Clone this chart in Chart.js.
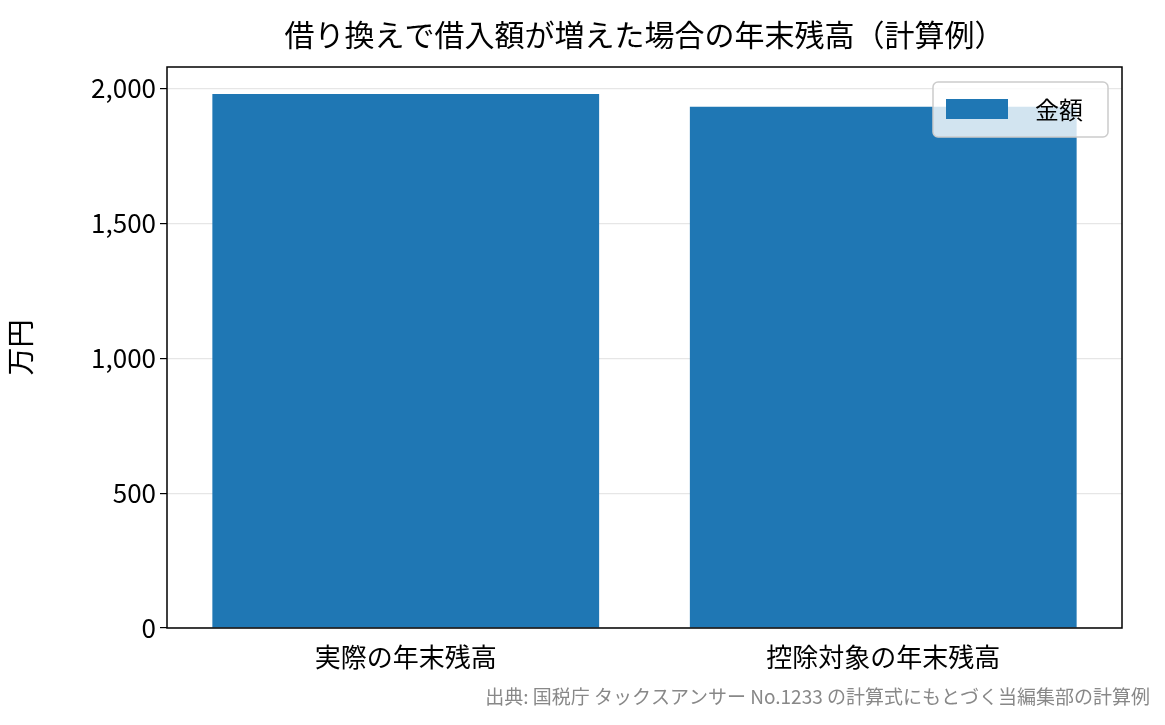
<!DOCTYPE html>
<html><head><meta charset="utf-8">
<script src="https://cdn.jsdelivr.net/npm/chart.js@4"></script>
<style>html,body{margin:0;padding:0;background:#fff}#w{width:1165px;height:725px}</style>
</head><body><div id="w"><canvas id="c"></canvas></div>
<script>
const categories = ["実際の年末残高", "控除対象の年末残高"];
const values = [1980, 1933];
const seriesName = "金額";
const yTicks = [0, 500, 1000, 1500, 2000];
const titleText = "借り換えで借入額が増えた場合の年末残高（計算例）";
const sourceText = "出典: 国税庁 タックスアンサー No.1233 の計算式にもとづく当編集部の計算例";
const F = '"Noto Sans CJK JP", "Noto Sans", sans-serif';
const deco = {
  id: 'deco',
  afterDraw(ch) {
    const c = ch.ctx, a = ch.chartArea;
    c.save();
    c.strokeStyle = '#000'; c.lineWidth = 1.5;
    c.strokeRect(a.left, a.top, a.right - a.left, a.bottom - a.top);
    c.fillStyle = '#000'; c.font = '30px ' + F; c.textAlign = 'center'; c.textBaseline = 'middle';
    c.fillText(titleText, (a.left + a.right) / 2, 35);
    c.fillStyle = '#888'; c.font = '19px ' + F; c.textAlign = 'right';
    c.fillText(sourceText, 1150, 697);
    // legend
    const lx = 933, ly = 82, lw = 175, lh = 55;
    c.fillStyle = 'rgba(255,255,255,0.8)';
    c.strokeStyle = '#ccc'; c.lineWidth = 1.5;
    c.beginPath(); c.roundRect(lx, ly, lw, lh, 5); c.fill(); c.stroke();
    c.fillStyle = '#1f77b4'; c.fillRect(946, 99, 62, 20);
    c.fillStyle = '#000'; c.font = '24px ' + F; c.textAlign = 'left';
    c.fillText(seriesName, 1035, 110);
    c.restore();
  }
};
new Chart(document.getElementById('c'), {
  type: 'bar',
  data: { labels: categories, datasets: [{ label: seriesName, data: values, backgroundColor: '#1f77b4', barPercentage: 0.81, categoryPercentage: 1 }] },
  options: {
    responsive: true, maintainAspectRatio: false, animation: false,
    layout: { padding: { top: 67, right: 43, left: 0, bottom: 0 } },
    plugins: { legend: { display: false }, title: { display: false }, tooltip: { enabled: false } },
    scales: {
      x: { grid: { display: false }, border: { display: false },
        ticks: { color: '#000', font: { family: F, size: 26 }, padding: 6 },
        afterFit(s) { s.height = 725 - 628; } },
      y: { min: 0, max: 2080, border: { display: false },
        grid: { color: '#e6e6e6', lineWidth: 1.2, drawTicks: true, tickColor: '#000', tickLength: 7 },
        afterBuildTicks(s) { s.ticks = yTicks.map(v => ({ value: v })); },
        ticks: { color: '#000', font: { family: F, size: 26 }, padding: 4, callback: v => v.toLocaleString('en-US') },
        title: { display: true, text: '万円', color: '#000', font: { family: F, size: 28 } },
        afterFit(s) { s.width = 167; } }
    }
  },
  plugins: [deco]
});
</script></body></html>
